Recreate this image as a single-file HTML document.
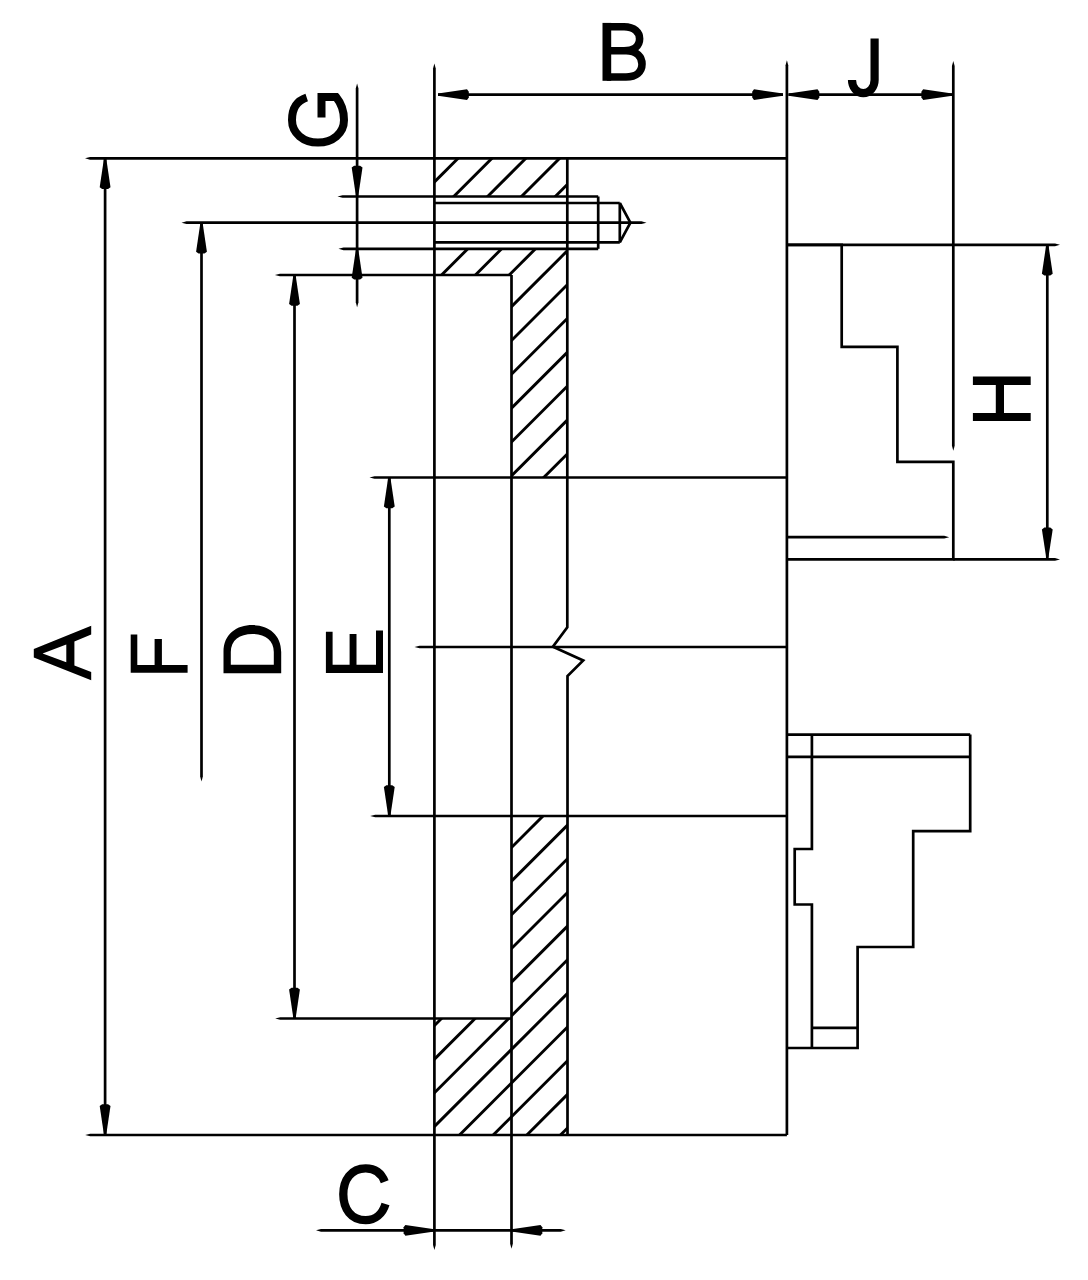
<!DOCTYPE html>
<html><head><meta charset="utf-8"><style>
html,body{margin:0;padding:0;background:#fff;width:1088px;height:1280px;overflow:hidden;font-family:"Liberation Sans",sans-serif;}
svg{display:block}
</style></head><body>
<svg width="1088" height="1280" viewBox="0 0 1088 1280">
<defs>
<clipPath id="c1a"><path d="M434.4,158.3 H567.3 V196.5 H434.4 Z"/></clipPath><clipPath id="c1b"><path d="M434.4,248.8 H567.3 V477.5 H511.5 V275 H434.4 Z"/></clipPath>
<clipPath id="c2"><path d="M511.5,816 H567.5 V1135 H434.4 V1018.5 H511.5 Z"/></clipPath>
</defs>
<rect width="1088" height="1280" fill="#fff"/>
<g stroke="#000" fill="#000" stroke-linecap="butt" stroke-linejoin="miter">
<line x1="105.1" y1="158.3" x2="105.1" y2="1135" stroke-width="2.7"/>
<polygon points="106.20,158.30 110.50,187.30 108.07,189.10 102.13,189.10 99.70,187.30 104.00,158.30" stroke="none"/>
<polygon points="104.00,1135.00 99.70,1106.00 102.13,1104.20 108.07,1104.20 110.50,1106.00 106.20,1135.00" stroke="none"/>
<polygon points="200.15,222.70 200.15,776.50 201.50,781.50 202.85,776.50 202.85,222.70" stroke="none"/>
<polygon points="202.60,222.70 206.90,251.70 204.47,253.50 198.53,253.50 196.10,251.70 200.40,222.70" stroke="none"/>
<line x1="294.5" y1="275" x2="294.5" y2="1018.5" stroke-width="2.7"/>
<polygon points="295.60,275.00 299.90,304.00 297.47,305.80 291.53,305.80 289.10,304.00 293.40,275.00" stroke="none"/>
<polygon points="293.40,1018.50 289.10,989.50 291.53,987.70 297.47,987.70 299.90,989.50 295.60,1018.50" stroke="none"/>
<line x1="389.3" y1="477.5" x2="389.3" y2="816" stroke-width="2.7"/>
<polygon points="390.40,477.50 394.70,506.50 392.27,508.30 386.33,508.30 383.90,506.50 388.20,477.50" stroke="none"/>
<polygon points="388.20,816.00 383.90,787.00 386.33,785.20 392.27,785.20 394.70,787.00 390.40,816.00" stroke="none"/>
<polygon points="357.10,83.50 355.75,88.50 355.75,302.30 357.10,307.30 358.45,302.30 358.45,88.50" stroke="none"/>
<polygon points="356.00,196.50 351.70,167.50 354.13,165.70 360.07,165.70 362.50,167.50 358.20,196.50" stroke="none"/>
<polygon points="358.20,248.80 362.50,277.80 360.07,279.60 354.13,279.60 351.70,277.80 356.00,248.80" stroke="none"/>
<line x1="438" y1="94.6" x2="783" y2="94.6" stroke-width="2.7"/>
<polygon points="438.00,93.50 467.00,89.20 468.80,91.63 468.80,97.57 467.00,100.00 438.00,95.70" stroke="none"/>
<polygon points="783.00,95.70 754.00,100.00 752.20,97.57 752.20,91.63 754.00,89.20 783.00,93.50" stroke="none"/>
<line x1="788.5" y1="94.6" x2="952.2" y2="94.6" stroke-width="2.7"/>
<polygon points="788.50,93.50 817.50,89.20 819.30,91.63 819.30,97.57 817.50,100.00 788.50,95.70" stroke="none"/>
<polygon points="952.20,95.70 923.20,100.00 921.40,97.57 921.40,91.63 923.20,89.20 952.20,93.50" stroke="none"/>
<line x1="1047.3" y1="244.8" x2="1047.3" y2="559.4" stroke-width="2.7"/>
<polygon points="1048.40,244.80 1052.70,273.80 1050.27,275.60 1044.33,275.60 1041.90,273.80 1046.20,244.80" stroke="none"/>
<polygon points="1046.20,557.40 1041.90,529.40 1044.33,527.60 1050.27,527.60 1052.70,529.40 1048.40,557.40" stroke="none"/>
<polygon points="316.00,1230.30 321.00,1231.65 560.70,1231.65 565.70,1230.30 560.70,1228.95 321.00,1228.95" stroke="none"/>
<polygon points="434.40,1231.40 405.40,1235.70 403.60,1233.27 403.60,1227.33 405.40,1224.90 434.40,1229.20" stroke="none"/>
<polygon points="511.50,1229.20 540.50,1224.90 542.30,1227.33 542.30,1233.27 540.50,1235.70 511.50,1231.40" stroke="none"/>
<polygon points="434.40,63.50 433.05,68.50 433.05,1245.10 434.40,1250.10 435.75,1245.10 435.75,68.50" stroke="none"/>
<polygon points="510.15,275.00 510.15,1243.70 511.50,1248.70 512.85,1243.70 512.85,275.00" stroke="none"/>
<polygon points="786.90,60.20 785.55,65.20 785.55,1135.00 788.25,1135.00 788.25,65.20" stroke="none"/>
<polygon points="953.30,60.90 951.95,65.90 951.95,445.80 953.30,450.80 954.65,445.80 954.65,65.90" stroke="none"/>
<polyline points="567.3,158.3 567.3,627.4 552.9,646.7 583.2,660.5 567.5,676 567.5,1135" fill="none" stroke-width="2.7"/>
<polygon points="85.00,158.30 90.00,159.65 786.90,159.65 786.90,156.95 90.00,156.95" stroke="none"/>
<polygon points="337.50,196.50 342.50,197.85 598.20,197.85 598.20,195.15 342.50,195.15" stroke="none"/>
<line x1="434.4" y1="203" x2="619.8" y2="203" stroke-width="2.7"/>
<polygon points="181.50,222.70 186.50,224.05 641.50,224.05 646.50,222.70 641.50,221.35 186.50,221.35" stroke="none"/>
<line x1="434.4" y1="242.4" x2="619.8" y2="242.4" stroke-width="2.7"/>
<polygon points="338.50,248.80 343.50,250.15 598.20,250.15 598.20,247.45 343.50,247.45" stroke="none"/>
<line x1="598.2" y1="196.5" x2="598.2" y2="248.8" stroke-width="2.7"/>
<polyline points="619.8,203 630.4,222.7 619.8,242.4" fill="none" stroke-width="2.7"/>
<line x1="619.8" y1="203" x2="619.8" y2="242.4" stroke-width="2.7"/>
<polygon points="274.90,275.00 279.90,276.35 511.50,276.35 511.50,273.65 279.90,273.65" stroke="none"/>
<polygon points="369.50,477.50 374.50,478.85 786.90,478.85 786.90,476.15 374.50,476.15" stroke="none"/>
<polygon points="414.50,647.00 419.50,648.35 786.90,648.35 786.90,645.65 419.50,645.65" stroke="none"/>
<polygon points="370.20,816.00 375.20,817.35 786.90,817.35 786.90,814.65 375.20,814.65" stroke="none"/>
<polygon points="275.20,1018.50 280.20,1019.85 511.50,1019.85 511.50,1017.15 280.20,1017.15" stroke="none"/>
<polygon points="85.20,1135.00 90.20,1136.35 786.90,1136.35 786.90,1133.65 90.20,1133.65" stroke="none"/>
<polygon points="786.90,246.15 1055.00,246.15 1060.00,244.80 1055.00,243.45 786.90,243.45" stroke="none"/>
<polygon points="953.30,560.75 1055.00,560.75 1060.00,559.40 1055.00,558.05 953.30,558.05" stroke="none"/>
<polyline points="786.9,244.8 841.7,244.8 841.7,346.8 897.4,346.8 897.4,461.9 953.3,461.9 953.3,559.4 786.9,559.4" fill="none" stroke-width="2.7"/>
<polygon points="786.90,538.55 944.20,538.55 949.20,537.20 944.20,535.85 786.90,535.85" stroke="none"/>
<line x1="786.9" y1="734.6" x2="970.2" y2="734.6" stroke-width="2.7"/>
<line x1="786.9" y1="756.8" x2="970.2" y2="756.8" stroke-width="2.7"/>
<polyline points="970.2,734.6 970.2,831.2 913.2,831.2 913.2,947 857.6,947 857.6,1048 786.9,1048" fill="none" stroke-width="2.7"/>
<polyline points="811.9,734.6 811.9,849 794.7,849 794.7,904.5 811.9,904.5 811.9,1048" fill="none" stroke-width="2.7"/>
<line x1="811.9" y1="1027.8" x2="857.6" y2="1027.8" stroke-width="2.7"/>
<line clip-path="url(#c1a)" x1="372.55" y1="210.00" x2="432.55" y2="150.00" stroke-width="2.9"/>
<line clip-path="url(#c1a)" x1="406.40" y1="210.00" x2="466.40" y2="150.00" stroke-width="2.9"/>
<line clip-path="url(#c1a)" x1="440.25" y1="210.00" x2="500.25" y2="150.00" stroke-width="2.9"/>
<line clip-path="url(#c1a)" x1="474.10" y1="210.00" x2="534.10" y2="150.00" stroke-width="2.9"/>
<line clip-path="url(#c1a)" x1="507.95" y1="210.00" x2="567.95" y2="150.00" stroke-width="2.9"/>
<line clip-path="url(#c1a)" x1="541.80" y1="210.00" x2="601.80" y2="150.00" stroke-width="2.9"/>
<line clip-path="url(#c1a)" x1="575.65" y1="210.00" x2="635.65" y2="150.00" stroke-width="2.9"/>
<line clip-path="url(#c1a)" x1="609.50" y1="210.00" x2="669.50" y2="150.00" stroke-width="2.9"/>
<line clip-path="url(#c1a)" x1="643.35" y1="210.00" x2="703.35" y2="150.00" stroke-width="2.9"/>
<line clip-path="url(#c1a)" x1="677.20" y1="210.00" x2="737.20" y2="150.00" stroke-width="2.9"/>
<line clip-path="url(#c1a)" x1="711.05" y1="210.00" x2="771.05" y2="150.00" stroke-width="2.9"/>
<line clip-path="url(#c1a)" x1="744.90" y1="210.00" x2="804.90" y2="150.00" stroke-width="2.9"/>
<line clip-path="url(#c1a)" x1="778.75" y1="210.00" x2="838.75" y2="150.00" stroke-width="2.9"/>
<line clip-path="url(#c1a)" x1="812.60" y1="210.00" x2="872.60" y2="150.00" stroke-width="2.9"/>
<line clip-path="url(#c1a)" x1="846.45" y1="210.00" x2="906.45" y2="150.00" stroke-width="2.9"/>
<line clip-path="url(#c1b)" x1="91.15" y1="490.00" x2="341.15" y2="240.00" stroke-width="2.9"/>
<line clip-path="url(#c1b)" x1="125.00" y1="490.00" x2="375.00" y2="240.00" stroke-width="2.9"/>
<line clip-path="url(#c1b)" x1="158.85" y1="490.00" x2="408.85" y2="240.00" stroke-width="2.9"/>
<line clip-path="url(#c1b)" x1="192.70" y1="490.00" x2="442.70" y2="240.00" stroke-width="2.9"/>
<line clip-path="url(#c1b)" x1="226.55" y1="490.00" x2="476.55" y2="240.00" stroke-width="2.9"/>
<line clip-path="url(#c1b)" x1="260.40" y1="490.00" x2="510.40" y2="240.00" stroke-width="2.9"/>
<line clip-path="url(#c1b)" x1="294.25" y1="490.00" x2="544.25" y2="240.00" stroke-width="2.9"/>
<line clip-path="url(#c1b)" x1="328.10" y1="490.00" x2="578.10" y2="240.00" stroke-width="2.9"/>
<line clip-path="url(#c1b)" x1="361.95" y1="490.00" x2="611.95" y2="240.00" stroke-width="2.9"/>
<line clip-path="url(#c1b)" x1="395.80" y1="490.00" x2="645.80" y2="240.00" stroke-width="2.9"/>
<line clip-path="url(#c1b)" x1="429.65" y1="490.00" x2="679.65" y2="240.00" stroke-width="2.9"/>
<line clip-path="url(#c1b)" x1="463.50" y1="490.00" x2="713.50" y2="240.00" stroke-width="2.9"/>
<line clip-path="url(#c1b)" x1="497.35" y1="490.00" x2="747.35" y2="240.00" stroke-width="2.9"/>
<line clip-path="url(#c1b)" x1="531.20" y1="490.00" x2="781.20" y2="240.00" stroke-width="2.9"/>
<line clip-path="url(#c1b)" x1="565.05" y1="490.00" x2="815.05" y2="240.00" stroke-width="2.9"/>
<line clip-path="url(#c2)" x1="141.70" y1="1150.00" x2="491.70" y2="800.00" stroke-width="2.9"/>
<line clip-path="url(#c2)" x1="175.35" y1="1150.00" x2="525.35" y2="800.00" stroke-width="2.9"/>
<line clip-path="url(#c2)" x1="209.00" y1="1150.00" x2="559.00" y2="800.00" stroke-width="2.9"/>
<line clip-path="url(#c2)" x1="242.65" y1="1150.00" x2="592.65" y2="800.00" stroke-width="2.9"/>
<line clip-path="url(#c2)" x1="276.30" y1="1150.00" x2="626.30" y2="800.00" stroke-width="2.9"/>
<line clip-path="url(#c2)" x1="309.95" y1="1150.00" x2="659.95" y2="800.00" stroke-width="2.9"/>
<line clip-path="url(#c2)" x1="343.60" y1="1150.00" x2="693.60" y2="800.00" stroke-width="2.9"/>
<line clip-path="url(#c2)" x1="377.25" y1="1150.00" x2="727.25" y2="800.00" stroke-width="2.9"/>
<line clip-path="url(#c2)" x1="410.90" y1="1150.00" x2="760.90" y2="800.00" stroke-width="2.9"/>
<line clip-path="url(#c2)" x1="444.55" y1="1150.00" x2="794.55" y2="800.00" stroke-width="2.9"/>
<line clip-path="url(#c2)" x1="478.20" y1="1150.00" x2="828.20" y2="800.00" stroke-width="2.9"/>
<line clip-path="url(#c2)" x1="511.85" y1="1150.00" x2="861.85" y2="800.00" stroke-width="2.9"/>
<line clip-path="url(#c2)" x1="545.50" y1="1150.00" x2="895.50" y2="800.00" stroke-width="2.9"/>
<line clip-path="url(#c2)" x1="579.15" y1="1150.00" x2="929.15" y2="800.00" stroke-width="2.9"/>
</g>
<g fill="#000" stroke="#000" stroke-width="0">
<path fill-rule="evenodd" d="M33.8,649 L91.2,625.8 L91.2,634.6 L74.4,641.4 L74.4,665.5 L91.2,672.1 L91.2,680.2 L33.8,657.6 Z M42.6,653.6 L66.3,662.3 L66.3,644.6 Z"/>
<path d="M130.7,634.5 H137.3 V665 H154.6 V638.9 H161.9 V665 H187.6 V672.7 H130.7 Z"/>
<path fill-rule="evenodd" d="M223.5,673.2 H281.2 V652 C281.2,634 268,625.1 252.4,625.1 C236.8,625.1 223.5,634 223.5,652 Z M230.8,664.8 H273.8 V652 C273.8,640 265,633.9 252.4,633.9 C239.8,633.9 230.8,640 230.8,652 Z"/>
<path d="M325.9,631.7 H332.6 V664.8 H349.6 V633.9 H356.5 V664.8 H376 V630.6 H383 V672.9 H325.9 Z"/>
<path d="M972.9,376.5 H1030.7 V385.1 H1004 V413.1 H1030.7 V421.1 H972.9 V413.1 H995.8 V385.1 H972.9 Z"/>
<path fill="none" stroke-width="8" d="M306.7,97.5 C296,101 292,110 292,120 C292,133.5 303.5,142.5 318,142.5 C332.5,142.5 344,133.5 344,120 C344,110 341,103 336,96.9 H321.5 V117.5"/>
<rect x="602.5" y="22.9" width="8.7" height="57.9"/>
<path fill="none" stroke-width="7.6" d="M606.8,26.7 H624 C634.5,26.7 639.6,32.5 639.6,38.7 C639.6,45.5 634.5,50.7 624,50.7 H606.8 M606.8,50.7 H626 C637,50.7 642,57 642,64 C642,71.5 636.5,77 626,77 H606.8"/>
<path fill="none" stroke-width="8.3" d="M384.7,1181.8 C381,1172 374,1168.4 365.7,1168.4 C351,1168.4 343.3,1180 343.3,1194.3 C343.3,1208.5 351,1220.2 365.7,1220.2 C375,1220.2 382.5,1214 385.5,1204"/>
<path fill="none" stroke-width="8.2" d="M874.6,38.6 V80 A11.3,13.2 0 0 1 852,80"/>
</g>
</svg>
</body></html>
